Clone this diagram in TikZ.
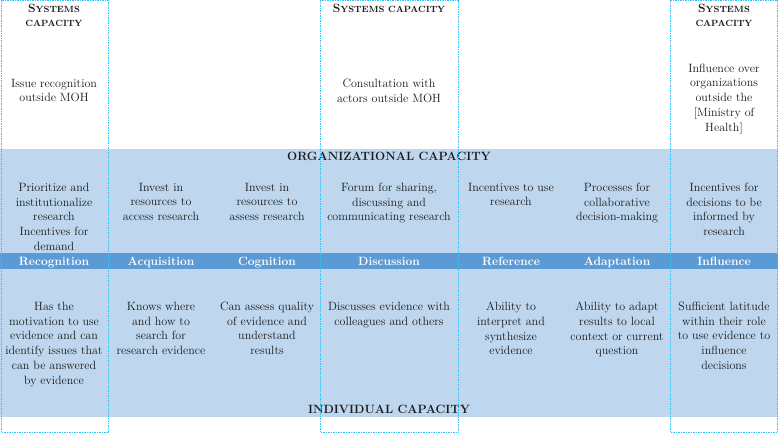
\documentclass[tikz,border=0pt]{standalone}
\usepackage{fontspec}
\definecolor{lightblue}{HTML}{BED6EE}
\definecolor{midblue}{HTML}{5B9BD5}
\definecolor{dashcyan}{HTML}{33C4F5}
\definecolor{txt}{HTML}{1A1A1A}
\begin{document}
\begin{tikzpicture}[x=1pt,y=-1pt,
  cell/.style={anchor=north,align=center,inner sep=0pt,font=\fontsize{12}{14.8}\selectfont,text=txt},
  head/.style={anchor=base,inner sep=0pt,font=\fontsize{12}{14.8}\selectfont\bfseries,text=white},
  captxt/.style={anchor=base,inner sep=0pt,font=\fontsize{12}{14.8}\selectfont\bfseries,text=txt},
  sysbox/.style={draw=dashcyan,line width=0.8pt,dash pattern=on 1.5pt off 1pt},
]
\path[use as bounding box] (0,0) rectangle (778,433);
\fill[white] (0,0) rectangle (778,433);
\fill[lightblue] (0,149) rectangle (778,417);
\fill[midblue] (0,253) rectangle (778,268.5);

% systems captions
\node[captxt] (s1a) at (54,12.3) {S\fontsize{9}{10}\selectfont YSTEMS};
\node[captxt] (s1b) at (54,27) {\fontsize{9}{10}\selectfont CAPACITY};
\node[captxt] (s2) at (389,12.3) {S\fontsize{9}{10}\selectfont YSTEMS CAPACITY};
\node[captxt] (s3a) at (724,12.3) {S\fontsize{9}{10}\selectfont YSTEMS};
\node[captxt] (s3b) at (724,27) {\fontsize{9}{10}\selectfont CAPACITY};

% systems texts
\node[cell] (t1) at (54,78.7) {Issue recognition\\outside MOH};
\node[cell] (t2) at (389,79) {Consultation with\\actors outside MOH};
\node[cell] (t3) at (724,63.4) {Influence over\\organizations\\outside the\\{[}Ministry of\\Health{]}};

% organizational
\node[captxt] (org) at (389,160.7) {ORGANIZATIONAL CAPACITY};
\node[cell] (o1) at (54,182.7) {Prioritize and\\institutionalize\\research\\Incentives for\\demand};
\node[cell] (o2) at (161,182.7) {Invest in\\resources to\\access research};
\node[cell] (o3) at (267,182.7) {Invest in\\resources to\\assess research};
\node[cell] (o4) at (389,182.7) {Forum for sharing,\\discussing and\\communicating research};
\node[cell] (o5) at (511,182.7) {Incentives to use\\research};
\node[cell] (o6) at (617,182.7) {Processes for\\collaborative\\decision-making};
\node[cell] (o7) at (724,182.7) {Incentives for\\decisions to be\\informed by\\research};

% headers
\node[head] (h1) at (54,265) {Recognition};
\node[head] (h2) at (161,265) {Acquisition};
\node[head] (h3) at (267,265) {Cognition};
\node[head] (h4) at (389,265) {Discussion};
\node[head] (h5) at (511,265) {Reference};
\node[head] (h6) at (617,265) {Adaptation};
\node[head] (h7) at (724,265) {Influence};

% individual
\node[cell] (i1) at (54,301.7) {Has the\\motivation to use\\evidence and can\\identify issues that\\can be answered\\by evidence};
\node[cell] (i2) at (161,301.7) {Knows where\\and how to\\search for\\research evidence};
\node[cell] (i3) at (267,301.7) {Can assess quality\\of evidence and\\understand\\results};
\node[cell] (i4) at (389,301.7) {Discusses evidence with\\colleagues and others};
\node[cell] (i5) at (511,301.7) {Ability to\\interpret and\\synthesize\\evidence};
\node[cell] (i6) at (617,301.7) {Ability to adapt\\results to local\\context or current\\question};
\node[cell] (i7) at (724,301.7) {Sufficient latitude\\within their role\\to use evidence to\\influence\\decisions};
\node[captxt] (ind) at (389,413) {INDIVIDUAL CAPACITY};

% systems boxes
\draw[sysbox] (1,0.5) rectangle (108,432.5);
\draw[sysbox] (320,0.5) rectangle (458.5,432.5);
\draw[sysbox] (670,0.5) rectangle (777.5,432.5);
\end{tikzpicture}
\end{document}
